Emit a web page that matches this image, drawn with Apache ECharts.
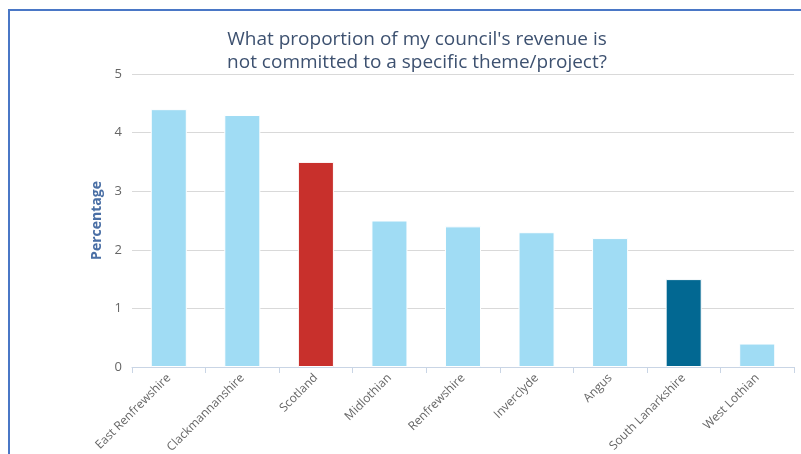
<!DOCTYPE html>
<html>
<head>
<meta charset="utf-8">
<script src="https://cdn.jsdelivr.net/npm/echarts@6/dist/echarts.min.js"></script>
<style>
  html, body { margin: 0; padding: 0; background: #fff; }
  #frame { position: absolute; left: 8px; top: 9px; width: 800px; height: 450px;
           border-left: 2px solid #4a77c6; border-top: 2px solid #4a77c6; }
  #chart { position: absolute; left: 0; top: 0; width: 801px; height: 454px; }
</style>
</head>
<body>
<div id="frame"></div>
<div id="chart"></div>
<script>
const categories = ['East Renfrewshire', 'Clackmannanshire', 'Scotland', 'Midlothian',
  'Renfrewshire', 'Inverclyde', 'Angus', 'South Lanarkshire', 'West Lothian'];
const values = [4.4, 4.3, 3.5, 2.5, 2.4, 2.3, 2.2, 1.5, 0.4];
const yTicks = [0, 1, 2, 3, 4, 5];

const light = '#a0dcf4';
const highlight = { 'Scotland': '#c8302c', 'South Lanarkshire': '#026892' };

const chart = echarts.init(document.getElementById('chart'));
chart.setOption({
  animation: false,
  textStyle: { fontFamily: 'Open Sans' },
  title: {
    text: "What proportion of my council's revenue is\nnot committed to a specific theme/project?",
    left: 412, top: 23, textAlign: 'center',
    textStyle: { fontFamily: 'Open Sans', fontSize: 19, fontWeight: 'normal', color: '#3d5170', lineHeight: 23 }
  },
  grid: { left: 132, right: 7, top: 74, bottom: 87, outerBoundsMode: 'none', containLabel: false },
  xAxis: {
    type: 'category',
    data: categories,
    axisLine: { lineStyle: { color: '#c9d5e5', width: 1 } },
    axisTick: { show: true, length: 6, lineStyle: { color: '#c9d5e5' } },
    axisLabel: { rotate: 45, fontSize: 12, color: '#666', margin: 9, interval: 0 }
  },
  yAxis: {
    type: 'value',
    min: yTicks[0], max: yTicks[yTicks.length - 1], interval: 1,
    name: 'Percentage', nameLocation: 'middle', nameGap: 20, nameRotate: 90,
    nameTextStyle: { fontSize: 14, fontWeight: 'bold', color: '#4a6fa5' },
    axisLabel: { fontSize: 13, color: '#666', margin: 10 },
    splitLine: { lineStyle: { color: '#d9d9d9' } },
    axisLine: { show: false }, axisTick: { show: false }
  },
  series: [{
    type: 'bar',
    barWidth: '49%',
    data: values.map((v, i) => ({
      value: v,
      itemStyle: { color: highlight[categories[i]] || light }
    })),
    itemStyle: { borderColor: '#fff', borderWidth: 1 }
  }]
});
</script>
</body>
</html>
